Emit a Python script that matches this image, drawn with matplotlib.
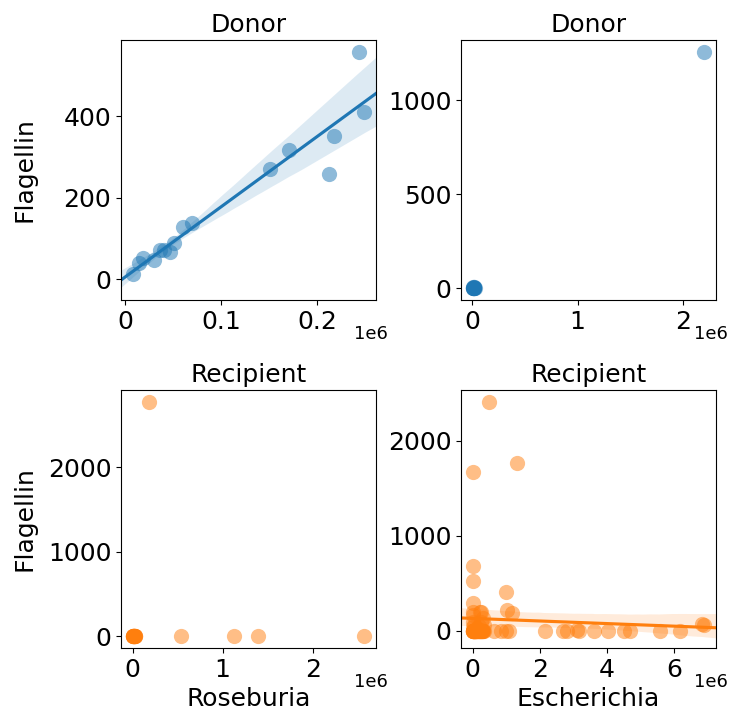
import matplotlib
matplotlib.use("Agg")
import matplotlib.pyplot as plt
from matplotlib.ticker import FuncFormatter, MultipleLocator
import numpy as np
import seaborn as sns

# Donor: Roseburia vs Flagellin
donor_roseburia = [8000, 14900, 19100, 30500, 36800, 41000, 47200, 50700, 60100, 69500,
                   151400, 170500, 212200, 217400, 244100, 249300]
donor_flag_r = [11.5, 38.5, 52, 46.6, 71, 71, 67, 89, 128, 137,
                270, 316.6, 257, 351, 558, 409]

# Donor: Escherichia vs Flagellin
donor_escherichia = [3000, 5000, 7000, 9000, 11000, 12000, 14000, 15000, 17000, 19000,
                     21000, 24000, 2206000]
donor_flag_e = [2, 0, 4, 1, 3, 6, 2, 0, 5, 1, 3, 2, 1257]

# Recipient: Roseburia vs Flagellin
recip_roseburia = [0, 2000, 4000, 6000, 8000, 10000, 12000, 14000, 16000, 18000,
                   20000, 22000, 25000, 28000, 32000, 178000, 537000, 1122000, 1396000, 2573000]
recip_flag_r = [0, 1, 2, 0, 3, 1, 0, 2, 1, 0,
                2, 1, 0, 3, 1, 2776, 2, 1, 3, 2]

# Recipient: Escherichia vs Flagellin
recip_escherichia = [20000, 500000, 1310000, 0, 0, 1000000, 1010000, 1180000, 220000, 320000,
                     0, 0, 0, 0, 250000, 250000, 350000,
                     0, 10000, 20000, 30000, 40000, 50000, 60000, 70000, 80000, 90000,
                     100000, 110000, 120000, 130000, 140000, 150000, 160000, 170000, 180000,
                     190000, 200000, 210000, 220000, 230000, 240000, 250000, 260000, 270000,
                     280000, 290000, 300000, 320000, 340000, 0, 5000, 15000, 25000, 35000,
                     45000, 55000, 65000, 75000, 85000, 95000,
                     0, 40000, 120000, 200000,
                     650000, 850000, 1000000, 1070000, 2140000, 2690000, 2820000, 3090000,
                     3160000, 3610000, 4030000, 4510000, 4680000, 5570000, 6150000,
                     6820000, 6890000]
recip_flag_e = [1667, 2410, 1762, 681, 526, 410, 218, 190, 200, 130,
                287, 200, 165, 95, 200, 95, 60,
                0, 2, 0, 1, 0, 3, 0, 1, 0, 2,
                0, 1, 0, 2, 0, 1, 0, 3, 0,
                1, 0, 2, 0, 1, 0, 0, 2, 0,
                1, 0, 2, 0, 1, 0, 1, 0, 2, 0,
                1, 0, 0, 2, 0, 1,
                40, 60, 30, 50,
                0, 1, 0, 2, 0, 1, 0, 3,
                0, 1, 0, 2, 0, 1, 0,
                67, 60]

FS = 18
fig = plt.figure(figsize=(7.34, 7.1), dpi=100)
ax1 = fig.add_axes([121/734, 1-300/710, 255/734, 260/710])
ax2 = fig.add_axes([461/734, 1-300/710, 255/734, 260/710])
ax3 = fig.add_axes([121/734, 1-648/710, 255/734, 258/710])
ax4 = fig.add_axes([461/734, 1-648/710, 255/734, 258/710])

skw = {"s": 120, "alpha": 0.5, "linewidths": 0}

sns.regplot(x=np.array(donor_roseburia), y=np.array(donor_flag_r), ax=ax1, color="C0",
            truncate=False, scatter_kws=skw, seed=0)
sns.regplot(x=np.array(donor_escherichia), y=np.array(donor_flag_e), ax=ax2, color="C0",
            fit_reg=False, scatter_kws=skw)
sns.regplot(x=np.array(recip_roseburia), y=np.array(recip_flag_r), ax=ax3, color="C1",
            fit_reg=False, scatter_kws=skw)
sns.regplot(x=np.array(recip_escherichia), y=np.array(recip_flag_e), ax=ax4, color="C1",
            truncate=False, scatter_kws=skw, seed=0)

ax1.set_title("Donor", fontsize=FS)
ax2.set_title("Donor", fontsize=FS)
ax3.set_title("Recipient", fontsize=FS)
ax4.set_title("Recipient", fontsize=FS)
ax1.set_ylabel("Flagellin", fontsize=FS)
ax3.set_ylabel("Flagellin", fontsize=FS)
ax1.yaxis.set_label_coords(-0.333, 0.5)
ax3.yaxis.set_label_coords(-0.333, 0.5)
ax1.set_xlabel("")
ax2.set_xlabel("")
ax2.set_ylabel("")
ax4.set_ylabel("")
ax3.set_xlabel("Roseburia", fontsize=FS)
ax4.set_xlabel("Escherichia", fontsize=FS)

ax4.set_ylim(-182, 2534)
ax4.xaxis.set_major_locator(MultipleLocator(2e6))

# x values shown in units of 1e6
fmt = FuncFormatter(lambda v, pos: "%g" % round(v / 1e6, 6))
for ax in [ax1, ax2, ax3, ax4]:
    ax.tick_params(labelsize=FS)
    ax.xaxis.set_major_formatter(fmt)
    ax.text(1 - 22/255, -0.095, "1e6", transform=ax.transAxes, ha="left", va="top",
            fontsize=13)

fig.savefig("out.png", dpi=100)
